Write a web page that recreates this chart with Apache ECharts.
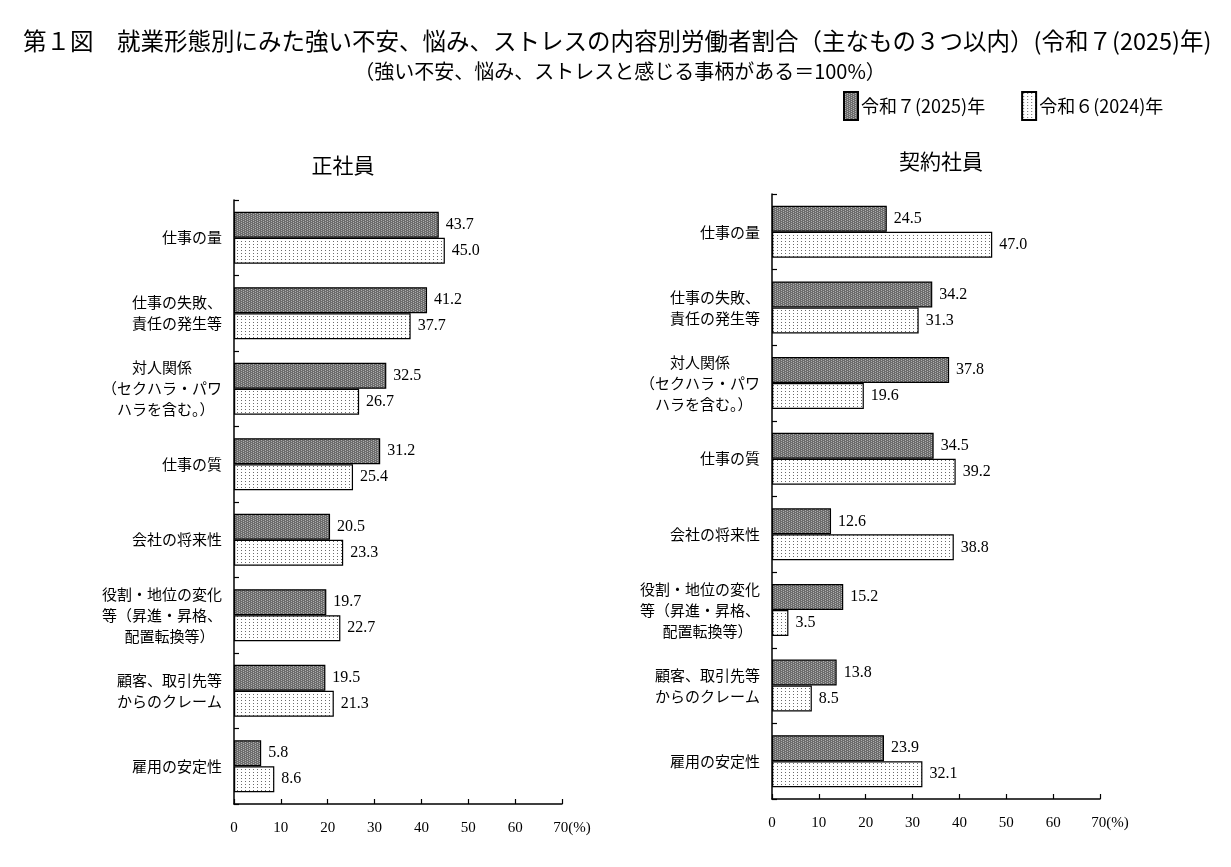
<!DOCTYPE html>
<html>
<head>
<meta charset="utf-8">
<script src="https://cdn.jsdelivr.net/npm/echarts@6/dist/echarts.min.js"></script>
<style>
  html, body { margin: 0; padding: 0; background: #fff; }
  #chart { width: 1231px; height: 867px; }
</style>
</head>
<body>
<div id="chart"></div>
<script>
// 項目（上から順）。全角スペースで行の中央寄せを調整
const categories = [
  '仕事の量',
  '仕事の失敗、\n責任の発生等',
  '対人関係　　\n（セクハラ・パワ\nハラを含む。）　',
  '仕事の質',
  '会社の将来性',
  '役割・地位の変化\n等（昇進・昇格、\n配置転換等）　',
  '顧客、取引先等\nからのクレーム',
  '雇用の安定性'
];

const seriesNames = ['令和７(2025)年', '令和６(2024)年'];

// 正社員
const regular2025 = [43.7, 41.2, 32.5, 31.2, 20.5, 19.7, 19.5, 5.8];
const regular2024 = [45.0, 37.7, 26.7, 25.4, 23.3, 22.7, 21.3, 8.6];

// 契約社員
const contract2025 = [24.5, 34.2, 37.8, 34.5, 12.6, 15.2, 13.8, 23.9];
const contract2024 = [47.0, 31.3, 19.6, 39.2, 38.8, 3.5, 8.5, 32.1];

const FONT = '"Liberation Serif", "Noto Sans CJK JP", serif';
const JP = '"Noto Sans CJK JP", sans-serif';

// 塗りパターン
function makeTile(w, h, bg, dots, dotColor) {
  const c = document.createElement('canvas');
  c.width = w; c.height = h;
  const ctx = c.getContext('2d');
  ctx.fillStyle = bg;
  ctx.fillRect(0, 0, w, h);
  ctx.fillStyle = dotColor;
  dots.forEach(d => ctx.fillRect(d[0], d[1], 1, 1));
  return c;
}
const darkTile = makeTile(4, 4, '#6c6c6c', [[1, 0], [1, 2], [3, 1], [3, 3]], '#b0b0b0');
const lightTile = makeTile(4, 3, '#ffffff', [[1, 1]], '#6a6a6a');
const fills = [
  { image: darkTile, repeat: 'repeat' },
  { image: lightTile, repeat: 'repeat' }
];

function xAxisFor(gridIndex) {
  return {
    type: 'value', gridIndex: gridIndex,
    min: 0, max: 70, interval: 10,
    axisLine: { show: true, lineStyle: { color: '#000', width: 1.5 } },
    axisTick: { show: true, inside: true, length: 5, lineStyle: { color: '#000', width: 1.2 } },
    axisLabel: {
      fontFamily: FONT, fontSize: 15, color: '#000', margin: 17,
      // 最後の目盛に(%)を付ける。数字を目盛の中央に保つため左に余白
      formatter: v => v === 70 ? '{n|70}{p|(%)}' : String(v),
      rich: {
        n: { fontFamily: FONT, fontSize: 15, color: '#000', padding: [0, 0, 0, 20] },
        p: { fontFamily: FONT, fontSize: 15, color: '#000' }
      }
    },
    splitLine: { show: false }
  };
}

function yAxisFor(gridIndex) {
  return {
    type: 'category', gridIndex: gridIndex, data: categories, inverse: true,
    axisLine: { show: true, lineStyle: { color: '#000', width: 1.5 } },
    axisTick: { show: true, inside: true, length: 5, lineStyle: { color: '#000', width: 1.2 } },
    axisLabel: { fontFamily: JP, fontSize: 15, color: '#000', margin: 12, lineHeight: 21 }
  };
}

function barSeries(idx, gridIndex, data) {
  return {
    name: seriesNames[idx], type: 'bar',
    xAxisIndex: gridIndex, yAxisIndex: gridIndex,
    data: data, barWidth: 26, barGap: '0%',
    itemStyle: { color: fills[idx], borderColor: '#000', borderWidth: 1.2 },
    label: {
      show: true, position: 'right', distance: 7,
      fontFamily: FONT, fontSize: 16, color: '#000',
      formatter: p => p.value.toFixed(1)
    },
    emphasis: { disabled: true }
  };
}

const chart = echarts.init(document.getElementById('chart'));
chart.setOption({
  backgroundColor: '#fff',
  animation: false,
  title: [
    {
      text: '第１図　就業形態別にみた強い不安、悩み、ストレスの内容別労働者割合（主なもの３つ以内）(令和７(2025)年)',
      left: 18, top: 24,
      textStyle: { fontFamily: JP, fontSize: 23.5, fontWeight: 'normal', color: '#000' }
    },
    {
      text: '（強い不安、悩み、ストレスと感じる事柄がある＝100%）',
      left: 615, top: 56, textAlign: 'center',
      textStyle: { fontFamily: JP, fontSize: 20, fontWeight: 'normal', color: '#000' }
    },
    {
      text: '正社員', left: 338, top: 150, textAlign: 'center',
      textStyle: { fontFamily: JP, fontSize: 21, fontWeight: 'normal', color: '#000' }
    },
    {
      text: '契約社員', left: 936, top: 146, textAlign: 'center',
      textStyle: { fontFamily: JP, fontSize: 21, fontWeight: 'normal', color: '#000' }
    }
  ],
  legend: {
    data: seriesNames,
    left: 838, top: 86,
    icon: 'rect', itemWidth: 14, itemHeight: 28, itemGap: 36,
    textStyle: { fontFamily: JP, fontSize: 18, color: '#000', padding: [0, 0, 0, -2] }
  },
  grid: [
    { left: 234, right: 669, top: 200, bottom: 63 },
    { left: 772, right: 131, top: 194, bottom: 68 }
  ],
  xAxis: [xAxisFor(0), xAxisFor(1)],
  yAxis: [yAxisFor(0), yAxisFor(1)],
  series: [
    barSeries(0, 0, regular2025),
    barSeries(1, 0, regular2024),
    barSeries(0, 1, contract2025),
    barSeries(1, 1, contract2024)
  ]
});
</script>
</body>
</html>
